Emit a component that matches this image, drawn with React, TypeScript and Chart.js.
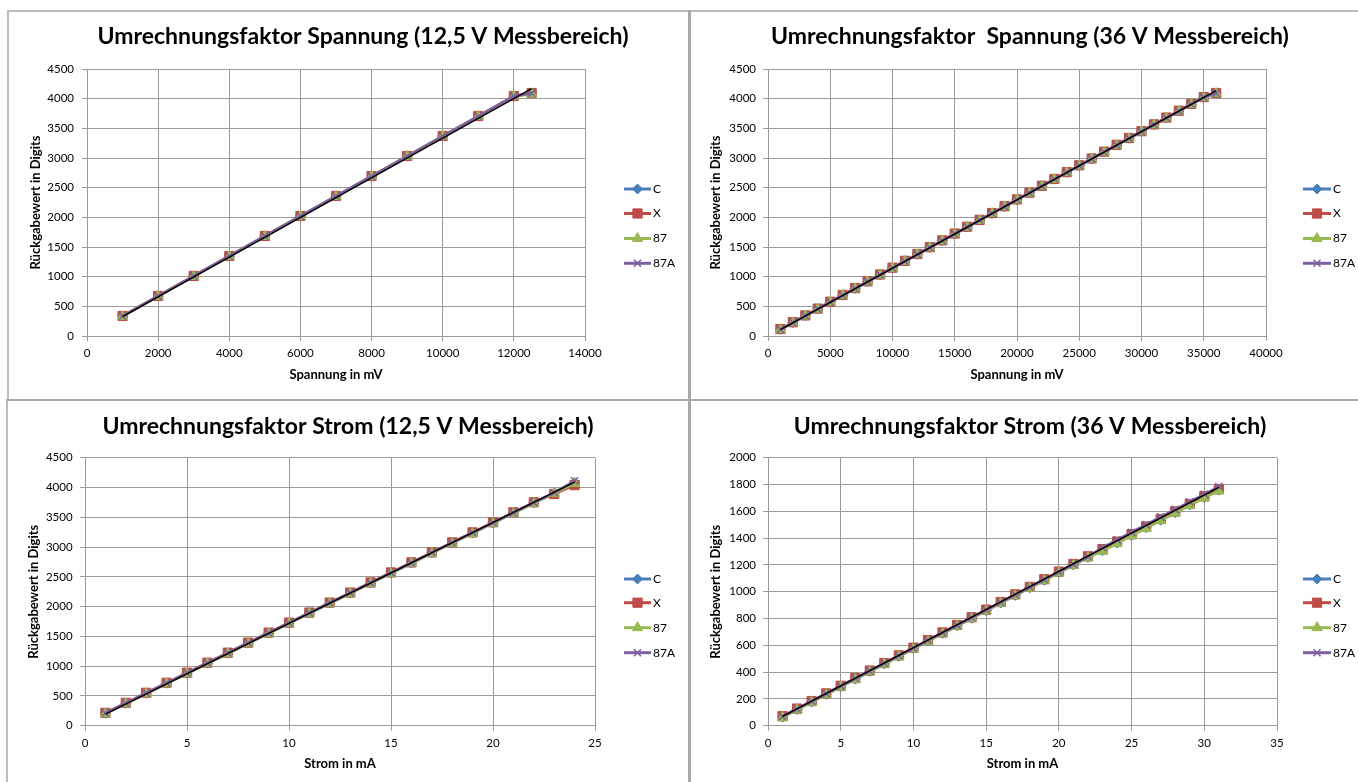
import React, { useEffect, useRef } from 'react';
import { Chart, registerables } from 'chart.js';
import { drawPoint } from 'chart.js/helpers';

Chart.register(...registerables);

const FONT = 'Lato, "Open Sans", sans-serif';

// ---------- data ----------
const SERIES_NAMES = ['C', 'X', '87', '87A'];

// Chart 1: Spannung 12,5 V
const span12X = [1000, 2000, 3000, 4000, 5000, 6000, 7000, 8000, 9000, 10000, 11000, 12000, 12500];
const span12C = [336, 673, 1010, 1347, 1684, 2021, 2358, 2695, 3032, 3369, 3706, 4043, 4095];
const span12Xs = [338, 675, 1012, 1349, 1686, 2023, 2360, 2697, 3034, 3371, 3708, 4045, 4095];
const span12S87 = [330, 667, 1004, 1341, 1678, 2015, 2352, 2689, 3026, 3363, 3700, 4037, 4080];
const span12S87A = [334, 671, 1008, 1345, 1682, 2019, 2356, 2693, 3030, 3367, 3704, 4041, 4092];
const span12TrendX = [1000, 12500];
const span12TrendY = [328, 4170];

// Chart 2: Spannung 36 V
const span36X = [1000, 2000, 3000, 4000, 5000, 6000, 7000, 8000, 9000, 10000, 11000, 12000, 13000, 14000, 15000, 16000, 17000, 18000, 19000, 20000, 21000, 22000, 23000, 24000, 25000, 26000, 27000, 28000, 29000, 30000, 31000, 32000, 33000, 34000, 35000, 36000];
const span36C = [113, 228, 343, 458, 573, 688, 803, 918, 1033, 1148, 1263, 1378, 1493, 1608, 1723, 1838, 1953, 2068, 2183, 2298, 2413, 2528, 2643, 2758, 2873, 2988, 3103, 3218, 3333, 3448, 3563, 3678, 3793, 3908, 4023, 4095];
const span36Xs = [117, 232, 347, 462, 577, 692, 807, 922, 1037, 1152, 1267, 1382, 1497, 1612, 1727, 1842, 1957, 2072, 2187, 2302, 2417, 2532, 2647, 2762, 2877, 2992, 3107, 3222, 3337, 3452, 3567, 3682, 3797, 3912, 4027, 4095];
const span36S87 = [107, 222, 337, 452, 567, 682, 797, 912, 1027, 1142, 1257, 1372, 1487, 1602, 1717, 1832, 1947, 2062, 2177, 2292, 2407, 2522, 2637, 2752, 2867, 2982, 3097, 3212, 3327, 3442, 3557, 3672, 3787, 3902, 4017, 4085];
const span36S87A = [111, 226, 341, 456, 571, 686, 801, 916, 1031, 1146, 1261, 1376, 1491, 1606, 1721, 1836, 1951, 2066, 2181, 2296, 2411, 2526, 2641, 2756, 2871, 2986, 3101, 3216, 3331, 3446, 3561, 3676, 3791, 3906, 4021, 4093];
const span36TrendX = [1000, 36000];
const span36TrendY = [108, 4135];

// Chart 3: Strom 12,5 V
const strom12X = [1, 2, 3, 4, 5, 6, 7, 8, 9, 10, 11, 12, 13, 14, 15, 16, 17, 18, 19, 20, 21, 22, 23, 24];
const strom12C = [208, 377, 545, 713, 882, 1050, 1218, 1387, 1555, 1723, 1892, 2060, 2228, 2397, 2565, 2733, 2902, 3070, 3238, 3407, 3575, 3743, 3912, 4080];
const strom12Xs = [216, 385, 553, 721, 890, 1058, 1226, 1395, 1563, 1731, 1900, 2068, 2236, 2405, 2573, 2741, 2910, 3078, 3246, 3415, 3583, 3751, 3890, 4040];
const strom12S87 = [198, 367, 535, 703, 872, 1040, 1208, 1377, 1545, 1713, 1882, 2050, 2218, 2387, 2555, 2723, 2892, 3060, 3228, 3397, 3565, 3733, 3902, 4070];
const strom12S87A = [210, 379, 547, 715, 884, 1052, 1220, 1389, 1557, 1725, 1894, 2062, 2230, 2399, 2567, 2735, 2904, 3072, 3240, 3409, 3577, 3745, 3914, 4110];
const strom12TrendX = [1, 24];
const strom12TrendY = [195, 4090];

// Chart 4: Strom 36 V
const strom36X = [1, 2, 3, 4, 5, 6, 7, 8, 9, 10, 11, 12, 13, 14, 15, 16, 17, 18, 19, 20, 21, 22, 23, 24, 25, 26, 27, 28, 29, 30, 31];
const strom36C = [64, 121, 177, 234, 291, 348, 405, 461, 518, 575, 632, 689, 745, 802, 859, 916, 973, 1029, 1086, 1143, 1200, 1257, 1306, 1363, 1420, 1477, 1534, 1590, 1647, 1704, 1758];
const strom36Xs = [71, 128, 184, 241, 298, 355, 412, 468, 525, 582, 639, 696, 752, 809, 866, 923, 980, 1036, 1093, 1150, 1207, 1264, 1318, 1374, 1430, 1487, 1543, 1599, 1655, 1712, 1765];
const strom36S87 = [61, 118, 174, 231, 288, 345, 402, 458, 515, 572, 629, 686, 742, 799, 856, 913, 970, 1026, 1083, 1140, 1197, 1254, 1302, 1359, 1416, 1473, 1530, 1586, 1643, 1700, 1752];
const strom36S87A = [68, 125, 181, 238, 295, 352, 409, 465, 522, 579, 636, 693, 749, 806, 863, 920, 977, 1033, 1090, 1147, 1204, 1261, 1330, 1387, 1444, 1501, 1558, 1614, 1671, 1728, 1785];
const strom36TrendX = [1, 31];
const strom36TrendY = [70, 1778];

// ---------- styles ----------
const SERIES_COLORS = ['#4A7EBB', '#BE4B48', '#98B954', '#7D60A0'];
const SERIES_MARKERS = ['rectRot', 'rect', 'triangle', 'crossRot'];
const SERIES_RADIUS = [5, 6.5, 6, 5];
const GRID = '#9a9a9a';
const TICK_SIZE = 11.5;
const AXT_SIZE = 13;
const LH_TICK = TICK_SIZE * 1.2;
const LH_AXT = AXT_SIZE * 1.2;

type Spec = {
  left: number; top: number; width: number; height: number;
  title: string; titleX: number; titleY: number;
  xTitle: string; yTitle: string;
  xs: number[]; series: number[][]; trendX: number[]; trendY: number[];
  xMax: number; xStep: number; yMax: number; yStep: number;
  area: { left: number; right: number; top: number; bottom: number };
  yTitleX: number; xTitleY: number; yLabelRight: number; xLabelY: number;
  legX1: number; legX2: number; legY: number[];
};

const specs: Spec[] = [
  {
    left: 0, top: 0, width: 689, height: 399,
    title: 'Umrechnungsfaktor Spannung (12,5 V Messbereich)', titleX: 363, titleY: 37,
    xTitle: 'Spannung in mV', yTitle: 'Rückgabewert in Digits',
    xs: span12X, series: [span12C, span12Xs, span12S87, span12S87A], trendX: span12TrendX, trendY: span12TrendY,
    xMax: 14000, xStep: 2000, yMax: 4500, yStep: 500,
    area: { left: 87, right: 585, top: 69, bottom: 336 },
    yTitleX: 36, xTitleY: 375, yLabelRight: 74, xLabelY: 353,
    legX1: 624, legX2: 651, legY: [189, 213.5, 238.5, 263.3],
  },
  {
    left: 689, top: 0, width: 669, height: 399,
    title: 'Umrechnungsfaktor  Spannung (36 V Messbereich)', titleX: 341, titleY: 37,
    xTitle: 'Spannung in mV', yTitle: 'Rückgabewert in Digits',
    xs: span36X, series: [span36C, span36Xs, span36S87, span36S87A], trendX: span36TrendX, trendY: span36TrendY,
    xMax: 40000, xStep: 5000, yMax: 4500, yStep: 500,
    area: { left: 79, right: 577, top: 69, bottom: 336 },
    yTitleX: 27, xTitleY: 375, yLabelRight: 67, xLabelY: 353,
    legX1: 614, legX2: 642, legY: [189, 213.5, 238.5, 263.3],
  },
  {
    left: 0, top: 399, width: 689, height: 383,
    title: 'Umrechnungsfaktor Strom (12,5 V Messbereich)', titleX: 348, titleY: 27.7,
    xTitle: 'Strom in mA', yTitle: 'Rückgabewert in Digits',
    xs: strom12X, series: [strom12C, strom12Xs, strom12S87, strom12S87A], trendX: strom12TrendX, trendY: strom12TrendY,
    xMax: 25, xStep: 5, yMax: 4500, yStep: 500,
    area: { left: 85, right: 595, top: 58.7, bottom: 326.7 },
    yTitleX: 34, xTitleY: 365, yLabelRight: 72.6, xLabelY: 344,
    legX1: 624, legX2: 651, legY: [180, 203.7, 228.7, 253.7],
  },
  {
    left: 689, top: 399, width: 669, height: 383,
    title: 'Umrechnungsfaktor Strom (36 V Messbereich)', titleX: 341, titleY: 27.7,
    xTitle: 'Strom in mA', yTitle: 'Rückgabewert in Digits',
    xs: strom36X, series: [strom36C, strom36Xs, strom36S87, strom36S87A], trendX: strom36TrendX, trendY: strom36TrendY,
    xMax: 35, xStep: 5, yMax: 2000, yStep: 200,
    area: { left: 79, right: 588, top: 58.7, bottom: 326.7 },
    yTitleX: 27, xTitleY: 365, yLabelRight: 67, xLabelY: 344,
    legX1: 614, legX2: 642, legY: [180, 203.7, 228.7, 253.7],
  },
];

const decorPlugin = {
  id: 'decor',
  afterDraw(chart: any, _args: any, opts: any) {
    const ctx = chart.ctx;
    ctx.save();
    ctx.fillStyle = '#000';
    ctx.font = `bold 23px ${FONT}`;
    ctx.textAlign = 'center';
    ctx.textBaseline = 'middle';
    ctx.fillText(opts.title, opts.titleX, opts.titleY);
    ctx.font = `12px ${FONT}`;
    ctx.textAlign = 'left';
    for (let i = 0; i < SERIES_NAMES.length; i++) {
      const y = opts.legY[i];
      ctx.strokeStyle = SERIES_COLORS[i];
      ctx.lineWidth = 3;
      ctx.beginPath();
      ctx.moveTo(opts.legX1, y);
      ctx.lineTo(opts.legX2, y);
      ctx.stroke();
      ctx.fillStyle = SERIES_COLORS[i];
      ctx.strokeStyle = SERIES_COLORS[i];
      ctx.lineWidth = i === 3 ? 1.5 : 1;
      drawPoint(ctx, { pointStyle: SERIES_MARKERS[i] as any, radius: SERIES_RADIUS[i], rotation: 0, borderWidth: ctx.lineWidth }, (opts.legX1 + opts.legX2) / 2, y);
      ctx.fillStyle = '#000';
      ctx.fillText(SERIES_NAMES[i], opts.legX2 + 2, y);
    }
    ctx.restore();
  },
};

const plain = (v: any) => String(v);

function buildConfig(s: Spec): any {
  const datasets: any[] = s.series.map((vals, i) => ({
    label: SERIES_NAMES[i],
    data: s.xs.map((x, k) => ({ x, y: vals[k] })),
    borderColor: SERIES_COLORS[i],
    backgroundColor: SERIES_COLORS[i],
    borderWidth: 2.5,
    pointStyle: SERIES_MARKERS[i],
    pointRadius: SERIES_RADIUS[i],
    pointBorderWidth: i === 3 ? 1.5 : 1,
    showLine: true,
    order: 4 - i,
  }));
  datasets.push({
    label: 'Trend',
    data: s.trendX.map((x, k) => ({ x, y: s.trendY[k] })),
    borderColor: '#000',
    backgroundColor: '#000',
    borderWidth: 1.5,
    pointRadius: 0,
    showLine: true,
    order: 0,
  });
  const tickFont = { family: FONT, size: TICK_SIZE };
  const titleFont = { family: FONT, size: AXT_SIZE, weight: 'bold' };
  return {
    type: 'scatter',
    data: { datasets },
    plugins: [decorPlugin],
    options: {
      responsive: false,
      animation: false,
      devicePixelRatio: 1,
      layout: { padding: { left: 0, top: s.area.top, right: s.width - s.area.right, bottom: 0 } },
      plugins: {
        legend: { display: false },
        title: { display: false },
        tooltip: { enabled: false },
        decor: { title: s.title, titleX: s.titleX, titleY: s.titleY, legX1: s.legX1, legX2: s.legX2, legY: s.legY },
      },
      scales: {
        x: {
          type: 'linear',
          position: 'bottom',
          min: 0,
          max: s.xMax,
          afterFit: (sc: any) => { sc.height = s.height - s.area.bottom; },
          ticks: { stepSize: s.xStep, color: '#000', font: tickFont, padding: s.xLabelY - s.area.bottom - 5 - LH_TICK / 2, maxRotation: 0, callback: plain },
          grid: { color: GRID, lineWidth: 1, tickLength: 5 },
          border: { color: GRID, width: 1 },
          title: { display: true, text: s.xTitle, color: '#000', font: titleFont, padding: { top: 0, bottom: s.height - s.xTitleY - LH_AXT / 2 } },
        },
        y: {
          type: 'linear',
          min: 0,
          max: s.yMax,
          afterFit: (sc: any) => { sc.width = s.area.left; },
          ticks: { stepSize: s.yStep, color: '#000', font: tickFont, padding: s.area.left - 5 - s.yLabelRight, callback: plain },
          grid: { color: GRID, lineWidth: 1, tickLength: 5 },
          border: { color: GRID, width: 1 },
          title: { display: true, text: s.yTitle, color: '#000', font: titleFont, padding: { top: s.yTitleX - LH_AXT / 2, bottom: 0 } },
        },
      },
    },
  };
}

function ChartPanel({ spec }: { spec: Spec }) {
  const ref = useRef<HTMLCanvasElement | null>(null);
  useEffect(() => {
    if (!ref.current) return;
    const chart = new Chart(ref.current, buildConfig(spec));
    return () => chart.destroy();
  }, [spec]);
  return (
    <canvas
      ref={ref}
      width={spec.width}
      height={spec.height}
      style={{ position: 'absolute', left: spec.left, top: spec.top, width: spec.width, height: spec.height }}
    />
  );
}

const lineStyle = (left: number, top: number, width: number, height: number, color = '#bcbcbc'): React.CSSProperties => ({
  position: 'absolute', left, top, width, height, background: color,
});

export default function App() {
  return (
    <div style={{ position: 'fixed', left: 0, top: 0, width: 1358, height: 782, background: '#fff', overflow: 'hidden' }}>
      {specs.map((s, i) => <ChartPanel key={i} spec={s} />)}
      <div style={lineStyle(8, 10, 1350, 2)} />
      <div style={lineStyle(7, 10, 2, 389)} />
      <div style={lineStyle(6, 399, 2, 383)} />
      <div style={lineStyle(688, 10, 3, 772, '#a9a9a9')} />
      <div style={lineStyle(6, 399, 1352, 2, '#a9a9a9')} />
    </div>
  );
}
